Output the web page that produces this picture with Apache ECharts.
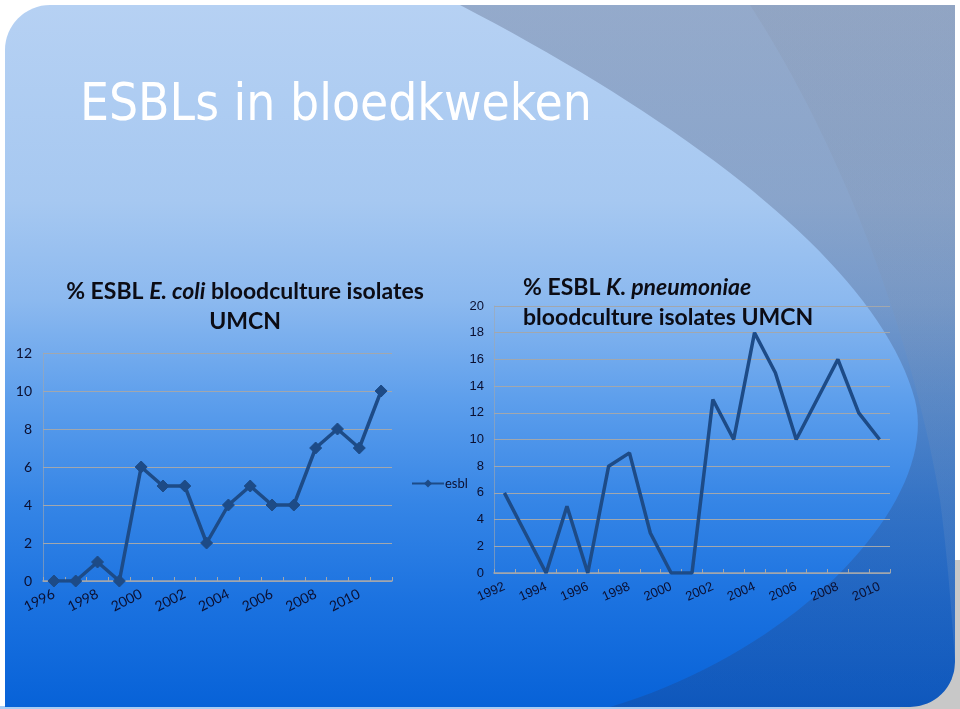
<!DOCTYPE html>
<html>
<head>
<meta charset="utf-8">
<script src="https://cdn.jsdelivr.net/npm/echarts@6/dist/echarts.min.js"></script>
<style>html,body{margin:0;padding:0;background:#fff}#c{width:960px;height:709px}</style>
</head>
<body>
<div id="c"></div>
<script>
const ecoliYears = ['1996','1997','1998','1999','2000','2001','2002','2003','2004','2005','2006','2007','2008','2009','2010','2011'];
const ecoliValues = [0,0,1,0,6,5,5,2,4,5,4,4,7,8,7,10];
const kpYears = ['1992','1993','1994','1995','1996','1997','1998','1999','2000','2001','2002','2003','2004','2005','2006','2007','2008','2009','2010'];
const kpValues = [6,3,0,5,0,8,9,3,0,0,13,10,18,15,10,13,16,12,10];
const seriesName = 'esbl';
const mainTitle = 'ESBLs in bloedkweken';

// decorative background curve helper (slide design, not data)
function bez(p0, p1, p2, p3, n) {
  const out = [];
  for (let i = 0; i <= n; i++) {
    const t = i / n, u = 1 - t;
    out.push([
      u*u*u*p0[0] + 3*u*u*t*p1[0] + 3*u*t*t*p2[0] + t*t*t*p3[0],
      u*u*u*p0[1] + 3*u*u*t*p1[1] + 3*u*t*t*p2[1] + t*t*t*p3[1]
    ]);
  }
  return out;
}
function arcPts(cx, cy, r, a0, a1, n) {
  const out = [];
  for (let i = 0; i <= n; i++) {
    const a = a0 + (a1 - a0) * i / n;
    out.push([cx + r * Math.cos(a), cy + r * Math.sin(a)]);
  }
  return out;
}
const shape1 = [].concat(
  bez([460,5],[700,130],[880,270],[915,400],40),
  bez([915,400],[940,500],[800,650],[610,707],40),
  arcPts(910, 662, 45, Math.PI/2, 0, 12),
  [[955,5]]
);
const shape2 = [].concat(
  bez([750,5],[850,160],[915,350],[940,500],40),
  bez([940,500],[948,560],[952,620],[955,662],20),
  [[955,5]]
);

const chart = echarts.init(document.getElementById('c'), null, {renderer:'canvas'});
const lineColor = '#1d4b87';
const gridColor = '#a2a7ad';
const labelColor = '#0b0f30';
const titleFont = 'Lato, "Open Sans", sans-serif';
const richT = {
  b: {fontFamily: titleFont, fontWeight: 'bold', fontSize: 23, color: '#0c0c14', lineHeight: 30},
  bi: {fontFamily: titleFont, fontWeight: 'bold', fontStyle: 'italic', fontSize: 23, color: '#0c0c14', lineHeight: 30}
};

const option = {
  backgroundColor: '#ffffff',
  animation: false,
  title: [
    {
      left: 240, top: 272, textAlign: 'center',
      text: '{b|% ESBL }{bi|E. coli}{b| bloodculture isolates}\n{b|UMCN}',
      textStyle: {rich: richT}
    },
    {
      left: 518, top: 268,
      text: '{b|% ESBL }{bi|K. pneumoniae}\n{b|bloodculture isolates UMCN}',
      textStyle: {rich: richT}
    }
  ],
  legend: {
    left: 406, top: 472, itemWidth: 32, itemHeight: 10, itemGap: 2,
    data: [seriesName],
    textStyle: {fontFamily: 'Lato, sans-serif', fontSize: 13, color: labelColor, padding: [0,0,0,-4]}
  },
  grid: [
    {left: 43, top: 353, width: 349, height: 228},
    {left: 494, top: 306, width: 396, height: 267}
  ],
  xAxis: [
    {
      gridIndex: 0, type: 'category', data: ecoliYears, boundaryGap: true,
      axisLine: {lineStyle: {color: gridColor, width: 1.5}},
      axisTick: {show: true, interval: 0, length: 4, inside: true, lineStyle: {color: gridColor}},
      axisLabel: {interval: 1, rotate: 27, margin: 12, fontFamily: 'Lato, sans-serif', fontSize: 14, color: labelColor},
      splitLine: {show: false}
    },
    {
      gridIndex: 1, type: 'category', data: kpYears, boundaryGap: true,
      axisLine: {lineStyle: {color: gridColor, width: 1.5}},
      axisTick: {show: true, interval: 0, length: 4, inside: true, lineStyle: {color: gridColor}},
      axisLabel: {interval: 1, rotate: 24, margin: 13, fontFamily: '"Liberation Sans", Arial, sans-serif', fontSize: 13, color: labelColor},
      splitLine: {show: false}
    }
  ],
  yAxis: [
    {
      gridIndex: 0, type: 'value', min: 0, max: 12, interval: 2,
      axisLine: {show: true, lineStyle: {color: gridColor, opacity: 0.6}},
      axisTick: {show: false},
      axisLabel: {margin: 11, fontFamily: 'Lato, sans-serif', fontSize: 14, color: labelColor},
      splitLine: {lineStyle: {color: gridColor, width: 1.2}}
    },
    {
      gridIndex: 1, type: 'value', min: 0, max: 20, interval: 2,
      axisLine: {show: true, lineStyle: {color: gridColor, opacity: 0.6}},
      axisTick: {show: false},
      axisLabel: {margin: 10, fontFamily: '"Liberation Sans", Arial, sans-serif', fontSize: 13, color: labelColor},
      splitLine: {lineStyle: {color: gridColor, width: 1.2}}
    }
  ],
  series: [
    {
      name: seriesName, type: 'line', xAxisIndex: 0, yAxisIndex: 0, data: ecoliValues,
      symbol: 'diamond', symbolSize: 12, showAllSymbol: true,
      lineStyle: {color: lineColor, width: 3.5},
      itemStyle: {color: lineColor, borderColor: lineColor}
    },
    {
      name: 'kp', type: 'line', xAxisIndex: 1, yAxisIndex: 1, data: kpValues,
      symbol: 'none',
      lineStyle: {color: lineColor, width: 3.5},
      itemStyle: {color: lineColor}
    }
  ],
  graphic: {
    elements: [
      {type: 'rect', z: -30, silent: true, shape: {x: 900, y: 560, width: 60, height: 149}, style: {fill: '#c8c8c8'}},
      {type: 'rect', z: -30, silent: true, shape: {x: 0, y: 706, width: 900, height: 3}, style: {fill: '#a8cdf4'}},
      {type: 'rect', z: -20, silent: true,
        shape: {x: 5, y: 5, width: 950, height: 702, r: [45, 0, 45, 0]},
        style: {fill: new echarts.graphic.LinearGradient(0, 0, 0, 1, [
          {offset: 0, color: '#b6d1f3'},
          {offset: 0.28, color: '#a6c8f1'},
          {offset: 0.42, color: '#8cb9ef'},
          {offset: 0.56, color: '#5e9fec'},
          {offset: 0.71, color: '#3585e6'},
          {offset: 0.85, color: '#1b72e0'},
          {offset: 1, color: '#0762d8'}
        ])}
      },
      {type: 'polygon', z: -19, silent: true,
        shape: {points: shape1},
        style: {fill: new echarts.graphic.LinearGradient(0, 0, 0, 1, [
          {offset: 0, color: 'rgba(70,80,110,0.30)'},
          {offset: 1, color: 'rgba(40,50,90,0.22)'}
        ])}
      },
      {type: 'polygon', z: -18, silent: true,
        shape: {points: shape2},
        style: {fill: new echarts.graphic.LinearGradient(0, 0, 0, 1, [
          {offset: 0, color: 'rgba(120,120,130,0.10)'},
          {offset: 1, color: 'rgba(140,170,210,0.18)'}
        ])}
      },
      {type: 'text', z: 50, left: 80, top: 81, silent: true,
        style: {text: mainTitle, fill: '#ffffff', font: '51px "DejaVu Sans Condensed", "Liberation Sans Narrow", sans-serif'}
      }
    ]
  }
};
chart.setOption(option);
</script>
</body>
</html>
